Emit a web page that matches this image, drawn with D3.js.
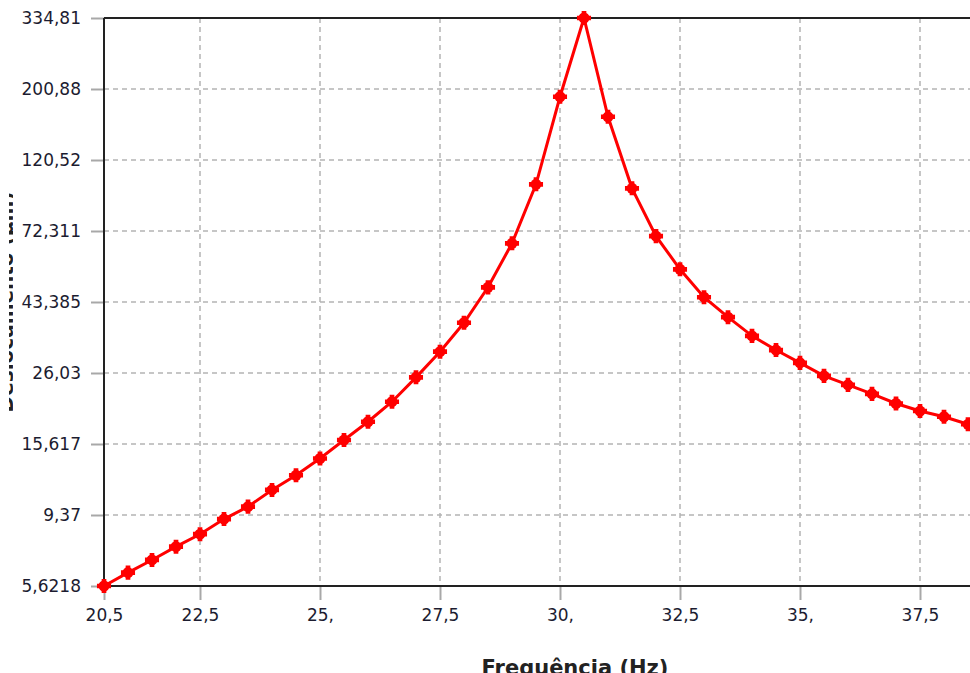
<!DOCTYPE html>
<html lang="pt">
<head>
<meta charset="utf-8">
<title>Frequência (Hz)</title>
<script src="https://cdn.jsdelivr.net/npm/d3@7"></script>
<style>
  body { margin: 0; background: #fff; }
  svg { display: block; font-family: "DejaVu Sans", Verdana, sans-serif; }
</style>
</head>
<body>
<script>
/* data */
var freqs = [20.5, 21, 21.5, 22, 22.5, 23, 23.5, 24, 24.5, 25, 25.5, 26, 26.5, 27, 27.5, 28, 28.5, 29, 29.5,
             30, 30.5, 31, 31.5, 32, 32.5, 33, 33.5, 34, 34.5, 35, 35.5, 36, 36.5, 37, 37.5, 38, 38.5];
var amps = [5.6218, 6.19, 6.78, 7.46, 8.16, 9.10, 9.95, 11.22, 12.47, 14.07, 16.07, 18.33, 21.17, 25.23, 30.34, 37.37, 48.21, 66.17, 101.2,
            190.0, 334.81, 164.5, 98.3, 69.7, 54.9, 44.9, 38.9, 34.0, 30.7, 28.0, 25.5, 23.9, 22.4, 20.9, 19.8, 19.0, 18.0];
var xTicks = [20.5, 22.5, 25, 27.5, 30, 32.5, 35, 37.5];
var xTickLabels = ["20,5", "22,5", "25,", "27,5", "30,", "32,5", "35,", "37,5"];
var yTicks = [5.6218, 9.37, 15.617, 26.03, 43.385, 72.311, 120.52, 200.88, 334.81];
var yTickLabels = ["5,6218", "9,37", "15,617", "26,03", "43,385", "72,311", "120,52", "200,88", "334,81"];
var xTitle = "Frequência (Hz)";
var yTitle = "Deslocamento (µm)";

var W = 970, H = 673;
var margin = {top: 18, right: 2, bottom: 87, left: 104};
var width = W - margin.left - margin.right;
var height = H - margin.top - margin.bottom;

var svg = d3.select("body").append("svg")
  .attr("width", W)
  .attr("height", H);

var g = svg.append("g")
  .attr("transform", "translate(" + margin.left + "," + margin.top + ")");

var x = d3.scaleLinear().domain([20.5, 38.5]).range([0, width]);
var y = d3.scaleLog().domain([5.6218, 334.81]).range([height, 0]);

/* grid */
g.selectAll(".gx").data(xTicks).enter().append("line")
  .attr("x1", function(d) { return x(d); })
  .attr("x2", function(d) { return x(d); })
  .attr("y1", 0).attr("y2", height)
  .attr("stroke", "#b4b4b4").attr("stroke-width", 1.5)
  .attr("stroke-dasharray", "5,4");
g.selectAll(".gy").data(yTicks).enter().append("line")
  .attr("x1", 0).attr("x2", W)
  .attr("y1", function(d) { return y(d); })
  .attr("y2", function(d) { return y(d); })
  .attr("stroke", "#b4b4b4").attr("stroke-width", 1.5)
  .attr("stroke-dasharray", "5,4");

/* axes */
var xAxis = d3.axisBottom(x).tickValues(xTicks).tickSize(14).tickPadding(9)
  .tickFormat(function(d, i) { return xTickLabels[i]; });
var yAxis = d3.axisLeft(y).tickValues(yTicks).tickSize(13).tickPadding(10)
  .tickFormat(function(d, i) { return yTickLabels[i]; });

var gx = g.append("g").attr("transform", "translate(0," + height + ")").call(xAxis);
var gy = g.append("g").call(yAxis);
[gx, gy].forEach(function(a) {
  a.attr("font-size", null).attr("font-family", null);
  a.select(".domain").remove();
  a.selectAll(".tick line").attr("stroke", "#a8a8a8").attr("stroke-width", 2);
  a.selectAll(".tick text")
    .attr("fill", "#1c1c30")
    .style("font-size", "17px")
    .style("font-family", "'DejaVu Sans', Verdana, sans-serif");
});

/* frame: left, top, bottom */
g.append("line").attr("x1", 0).attr("x2", 0).attr("y1", 0).attr("y2", height)
  .attr("stroke", "#222").attr("stroke-width", 2);
g.append("line").attr("x1", 0).attr("x2", W).attr("y1", 0).attr("y2", 0)
  .attr("stroke", "#222").attr("stroke-width", 2);
g.append("line").attr("x1", 0).attr("x2", W).attr("y1", height).attr("y2", height)
  .attr("stroke", "#222").attr("stroke-width", 2);

/* series */
var line = d3.line()
  .x(function(d, i) { return x(freqs[i]); })
  .y(function(d) { return y(d); });

g.append("path").datum(amps)
  .attr("d", line)
  .attr("fill", "none")
  .attr("stroke", "#ff0000")
  .attr("stroke-width", 3);

var marks = g.selectAll(".pt").data(amps).enter().append("g")
  .attr("transform", function(d, i) { return "translate(" + x(freqs[i]) + "," + y(d) + ")"; });
marks.append("circle").attr("r", 5.5).attr("fill", "#ff0000");
marks.append("path").attr("d", d3.symbol().type(d3.symbolCross).size(110)).attr("fill", "#ff0000");

/* titles */
svg.append("text")
  .attr("x", 575).attr("y", H + 2)
  .attr("text-anchor", "middle")
  .style("font-size", "21px")
  .style("font-weight", "bold")
  .attr("fill", "#222")
  .text(xTitle);

/* y title: only a thin sliver of it shows at the left edge, as in the reference */
svg.append("clipPath").attr("id", "ytclip")
  .append("rect").attr("x", 9).attr("y", 0).attr("width", 4).attr("height", H);

svg.append("g").attr("clip-path", "url(#ytclip)")
  .append("text")
  .attr("transform", "translate(13," + (margin.top + height / 2) + ") rotate(-90)")
  .attr("text-anchor", "middle")
  .style("font-size", "20px")
  .style("font-weight", "bold")
  .attr("fill", "#222")
  .text(yTitle);
</script>
</body>
</html>
